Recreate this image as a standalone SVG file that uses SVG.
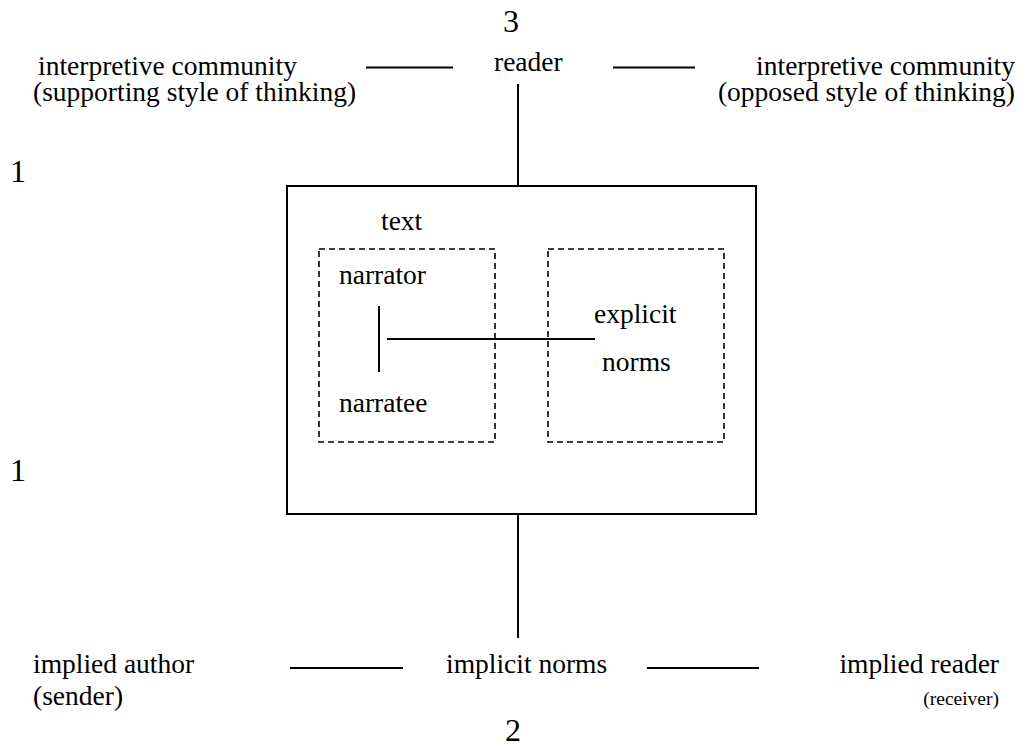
<svg xmlns="http://www.w3.org/2000/svg" width="1022" height="744" viewBox="0 0 1022 744">
<style>
text { font-family: "Liberation Serif", "Times New Roman", serif; font-size: 27.5px; fill: #000; }
.num { font-size: 32px; }
.small { font-size: 19.5px; }
.ln { stroke: #000; stroke-width: 2; fill: none; }
.box { stroke: #000; stroke-width: 2; fill: none; }
.dash { stroke: #000; stroke-width: 1.6; fill: none; stroke-dasharray: 6 4; }
</style>
<rect width="1022" height="744" fill="#fff"/>
<g id="connectors">
<line class="ln" x1="366" y1="67.5" x2="453" y2="67.5"/>
<line class="ln" x1="613" y1="67.5" x2="695" y2="67.5"/>
<line class="ln" x1="518" y1="84" x2="518" y2="186"/>
<line class="ln" x1="518" y1="514" x2="518" y2="638"/>
<line class="ln" x1="290" y1="668" x2="403" y2="668"/>
<line class="ln" x1="647" y1="668" x2="759" y2="668"/>
<line class="ln" x1="379" y1="306" x2="379" y2="372"/>
<line class="ln" x1="387" y1="339" x2="595" y2="339"/>
</g>
<g id="num3"><text class="num" x="511" y="32" text-anchor="middle">3</text></g>
<g id="num1a"><text class="num" x="10" y="182">1</text></g>
<g id="num1b"><text class="num" x="10" y="481">1</text></g>
<g id="num2"><text class="num" x="513" y="741" text-anchor="middle">2</text></g>
<g id="community-left">
<text x="38" y="75">interpretive community</text>
<text x="33" y="101">(supporting style of thinking)</text>
</g>
<g id="reader"><text x="494" y="71">reader</text></g>
<g id="community-right">
<text x="1015" y="75" text-anchor="end">interpretive community</text>
<text x="1015" y="101" text-anchor="end">(opposed style of thinking)</text>
</g>
<g id="text-box">
<rect class="box" x="287" y="186" width="469" height="328"/>
<text x="381" y="230">text</text>
</g>
<g id="narrator-box">
<rect class="dash" x="319" y="249" width="176" height="193"/>
<text x="339" y="284">narrator</text>
<text x="339" y="412">narratee</text>
</g>
<g id="explicit-norms">
<rect class="dash" x="548" y="249" width="176" height="193"/>
<text x="594" y="323">explicit</text>
<text x="602" y="371">norms</text>
</g>
<g id="implied-author">
<text x="33" y="673">implied author</text>
<text x="33" y="705">(sender)</text>
</g>
<g id="implicit-norms"><text x="446" y="673">implicit norms</text></g>
<g id="implied-reader">
<text x="999" y="673" text-anchor="end">implied reader</text>
<text class="small" x="999" y="705" text-anchor="end">(receiver)</text>
</g>
</svg>
